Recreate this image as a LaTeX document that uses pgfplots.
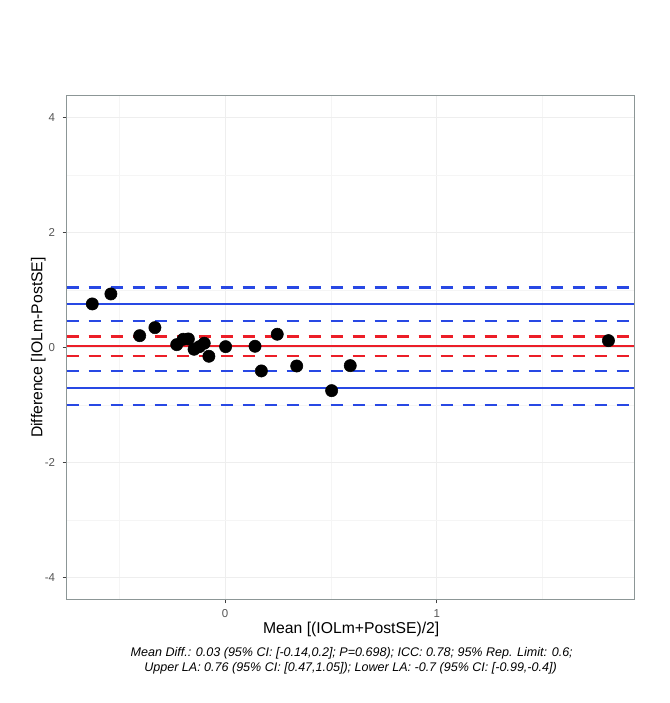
\documentclass[border=0pt]{standalone}
\usepackage{pgfplots}
\pgfplotsset{compat=1.18}
\usepackage{fontspec}
\setmainfont{Liberation Sans}
\definecolor{bared}{RGB}{236,30,40}
\definecolor{bablue}{RGB}{40,72,228}
\definecolor{frame}{RGB}{140,150,150}
\definecolor{ticklab}{RGB}{85,85,85}
\begin{document}
\begin{tikzpicture}
\path[use as bounding box] (0,0) rectangle (502.5pt,527.25pt);
\begin{axis}[
  at={(50.0pt,77.8pt)}, anchor=south west,
  scale only axis, width=425.7pt, height=377.7pt,
  xmin=-0.749, xmax=1.933, ymin=-4.374, ymax=4.384,
  xtick={0,1}, ytick={-4,-2,0,2,4},
  minor xtick={-0.5,0.5,1.5}, minor ytick={-3,-1,1,3},
  grid=both,
  major grid style={draw=gray!13, line width=0.5pt},
  minor grid style={draw=gray!8, line width=0.35pt},
  minor tick length=0pt,
  major tick length=3pt, tick align=outside, tick pos=left,
  tick style={draw=black!75, line width=0.6pt},
  axis line style={draw=frame, line width=1.1pt},
  /pgf/number format/assume math mode=true,
  ticklabel style={font=\fontsize{8.6}{10}\selectfont, text=ticklab},
  xticklabel style={anchor=center, yshift=-7.6pt},
  yticklabel style={anchor=east, inner sep=0pt, xshift=-5.5pt},
  clip=true,
]
% mean difference
\addplot[bared, line width=1.8pt] coordinates {(-0.749,0.03) (1.933,0.03)};
\addplot[bared, line width=1.9pt, dash pattern=on 9.5pt off 7pt] coordinates {(-0.749,0.2) (1.933,0.2)};
\addplot[bared, line width=1.9pt, dash pattern=on 9.5pt off 7pt] coordinates {(-0.749,-0.14) (1.933,-0.14)};
% upper LA
\addplot[bablue, line width=1.5pt] coordinates {(-0.749,0.76) (1.933,0.76)};
\addplot[bablue, line width=1.7pt, dash pattern=on 9.5pt off 7pt] coordinates {(-0.749,1.05) (1.933,1.05)};
\addplot[bablue, line width=1.7pt, dash pattern=on 9.5pt off 7pt] coordinates {(-0.749,0.47) (1.933,0.47)};
% lower LA
\addplot[bablue, line width=1.5pt] coordinates {(-0.749,-0.7) (1.933,-0.7)};
\addplot[bablue, line width=1.7pt, dash pattern=on 9.5pt off 7pt] coordinates {(-0.749,-0.4) (1.933,-0.4)};
\addplot[bablue, line width=1.7pt, dash pattern=on 9.5pt off 7pt] coordinates {(-0.749,-0.99) (1.933,-0.99)};
% points
\addplot[only marks, mark=*, mark size=4.6pt, draw=black, fill=black] coordinates {
(-0.628,0.762) (-0.540,0.936) (-0.404,0.210) (-0.332,0.350) (-0.229,0.054)
(-0.198,0.148) (-0.174,0.153) (-0.147,-0.026) (-0.122,0.019) (-0.099,0.078)
(-0.077,-0.148) (0.002,0.019) (0.141,0.026) (0.246,0.235) (0.171,-0.403)
(0.338,-0.317) (0.503,-0.746) (0.591,-0.311) (1.811,0.124)
};
\end{axis}
\node[anchor=base, font=\fontsize{11.8}{14}\selectfont] at (263.4pt,51.75pt) {Mean [(IOLm+PostSE)/2]};
\node[anchor=base, rotate=90, font=\fontsize{11.8}{14}\selectfont] at (31.75pt,266.6pt) {Difference [IOLm-PostSE]};
\node[anchor=base, font=\fontsize{9.4}{11}\selectfont\itshape] at (263.8pt,35.1pt) {Mean Diff.: 0.03 (95\% CI: [-0.14,0.2]; P=0.698); ICC: 0.78; 95\% Rep. Limit: 0.6;};
\node[anchor=base, font=\fontsize{9.4}{11}\selectfont\itshape] at (262.9pt,23.4pt) {Upper LA: 0.76 (95\% CI: [0.47,1.05]); Lower LA: -0.7 (95\% CI: [-0.99,-0.4])};
\end{tikzpicture}
\end{document}
